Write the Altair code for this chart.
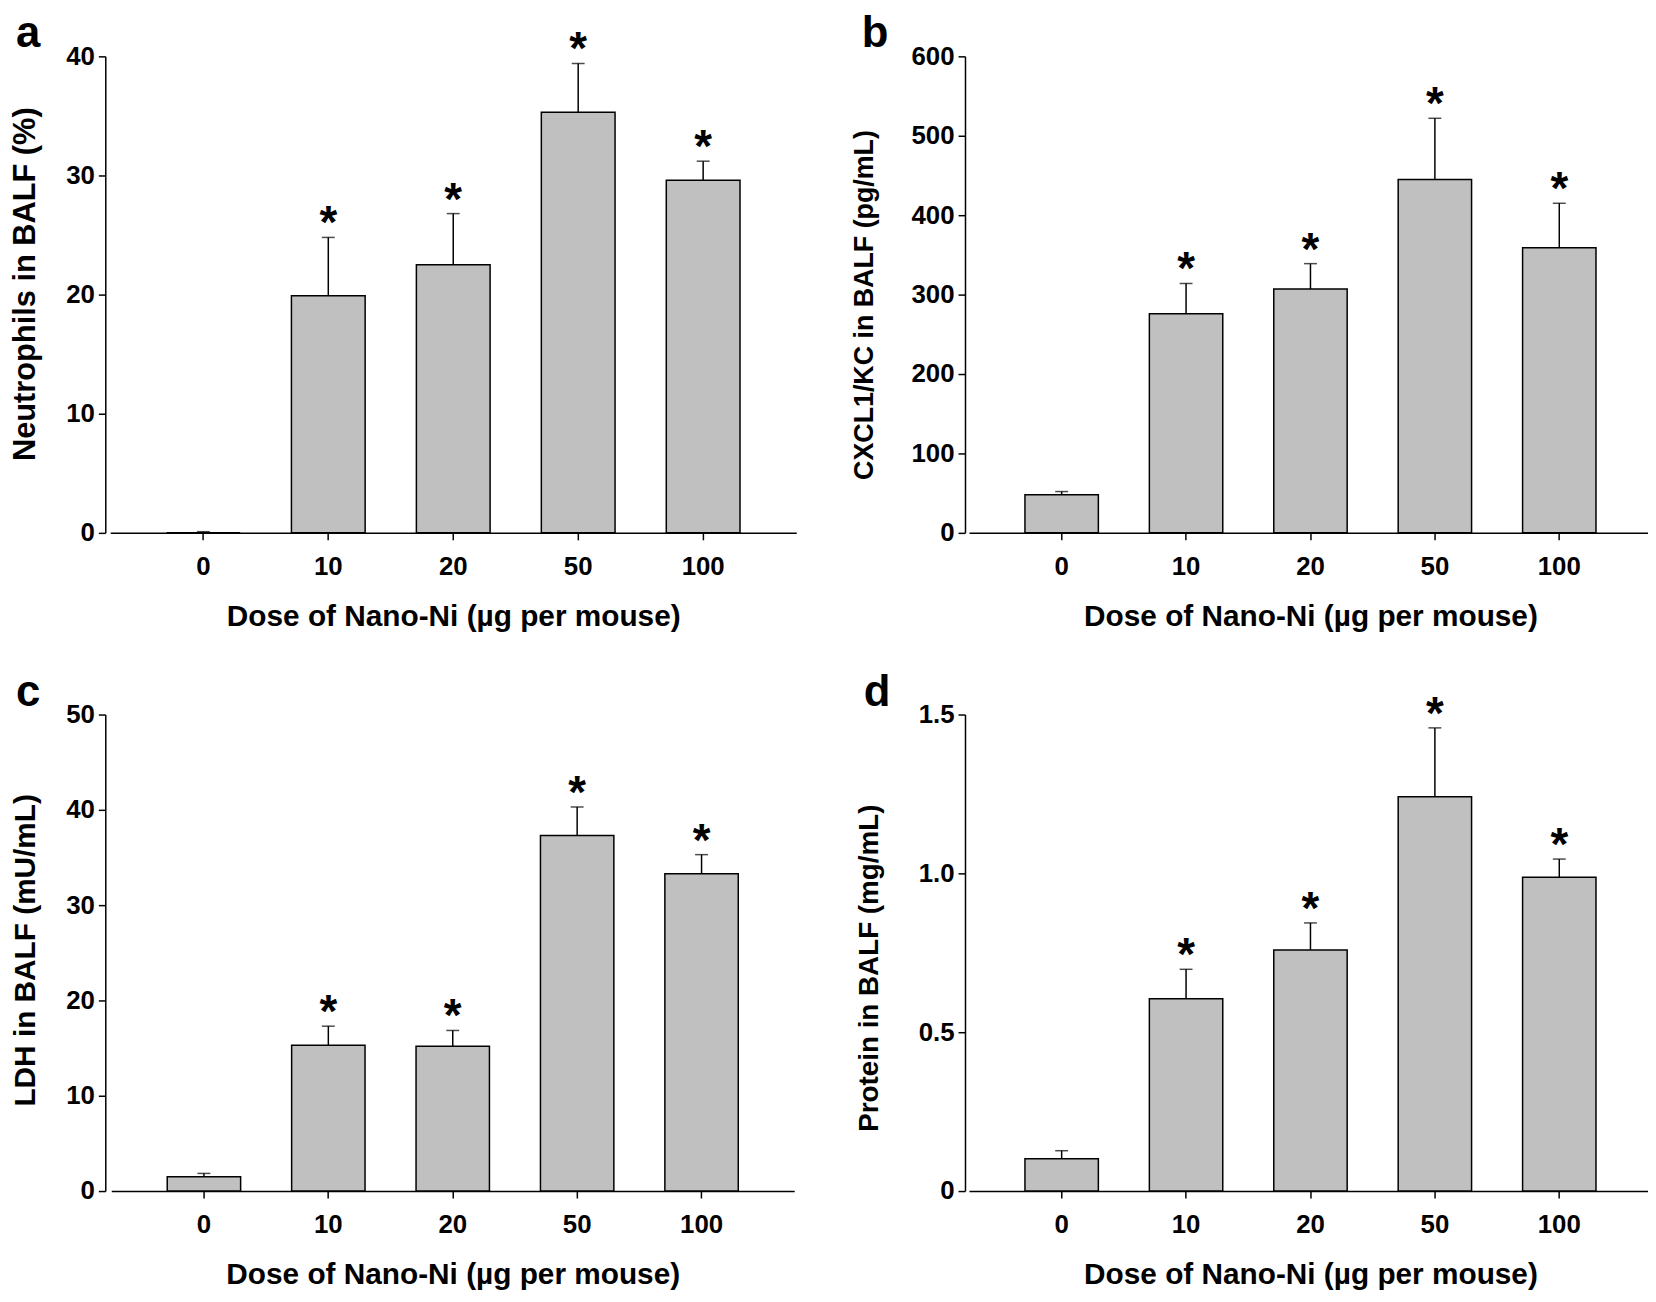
import altair as alt
import pandas as pd

doses = ["0", "10", "20", "50", "100"]
signif = ["", "*", "*", "*", "*"]
panel_letters = ["a", "b", "c", "d"]

neut_mean = [0.0, 19.9, 22.5, 35.3, 29.6]
neut_err = [0.1, 4.9, 4.3, 4.1, 1.6]

cxcl_mean = [48, 276, 307, 445, 359]
cxcl_err = [4, 38, 32, 77, 56]

ldh_mean = [1.5, 15.3, 15.2, 37.3, 33.3]
ldh_err = [0.35, 2.0, 1.65, 3.0, 2.0]

prot_mean = [0.102, 0.605, 0.759, 1.241, 0.988]
prot_err = [0.025, 0.093, 0.085, 0.217, 0.057]

XTITLE = "Dose of Nano-Ni (µg per mouse)"
FONT = "Liberation Sans, Arial, Helvetica, sans-serif"
BAR_FILL = "#c0c0c0"


def panel(letter, mean, err, ytitle, ymax, yticks, label_expr, width, height,
          letter_dx, ytitle_x, ytitle_y, ytitle_size, xrange):
    df = pd.DataFrame({"dose": doses, "mean": mean, "err": err, "sig": signif})
    df["top"] = df["mean"] + df["err"]

    xscale = alt.Scale(paddingInner=0.41, paddingOuter=0.45, range=xrange)

    xenc = alt.X(
        "dose:N", sort=doses, title=XTITLE, scale=xscale,
        axis=alt.Axis(
            labelAngle=0, labelFont=FONT, labelFontSize=26, labelFontWeight="bold",
            labelColor="black", labelPadding=14, tickSize=7, tickColor="black",
            tickWidth=1.5, domainColor="black", domainWidth=1.5,
            titleFont=FONT, titleFontSize=30, titleFontWeight="bold",
            titleColor="black", titleY=69, titleBaseline="top",
        ),
    )

    def yenc(field):
        return alt.Y(
            f"{field}:Q", title=ytitle,
            scale=alt.Scale(domain=[0, ymax], nice=False, zero=True),
            axis=alt.Axis(
                values=yticks, labelExpr=label_expr, grid=False,
                labelFont=FONT, labelFontSize=26, labelFontWeight="bold",
                labelColor="black", labelPadding=4, tickSize=7, tickColor="black",
                tickWidth=1.5, domainColor="black", domainWidth=1.5,
                titleFont=FONT, titleFontSize=ytitle_size, titleFontWeight="bold",
                titleColor="black", titleX=ytitle_x, titleY=ytitle_y,
                titleAngle=270, titleAlign="center", titleBaseline="top",
            ),
        )

    base = alt.Chart(df)
    bars = base.mark_bar(fill=BAR_FILL, stroke="black", strokeWidth=1.5).encode(
        x=xenc, y=yenc("mean"))
    errline = base.mark_rule(color="black", strokeWidth=1.5).encode(
        x=xenc, y=yenc("mean"), y2=alt.Y2("top:Q"))
    cap = base.mark_tick(color="black", thickness=1.5, size=13).encode(
        x=xenc, y=yenc("top"))
    star = base.mark_text(font=FONT, fontSize=46, fontWeight="bold",
                          baseline="alphabetic", dy=1, color="black").encode(
        x=xenc, y=yenc("top"), text="sig:N")

    lab = alt.Chart(pd.DataFrame({"letter": [letter]})).mark_text(
        font=FONT, fontSize=44, fontWeight="bold", align="left",
        baseline="alphabetic", color="black",
    ).encode(text="letter:N", x=alt.value(letter_dx), y=alt.value(-9))

    return alt.layer(bars, errline, cap, star, lab).properties(
        width=width, height=height)


W1, W2, H = 693, 684, 480

pa = panel(panel_letters[0], neut_mean, neut_err, "Neutrophils in BALF (%)", 40,
           [0, 10, 20, 30, 40], "datum.label", W1, H, -90, -95, 229, 31,
           [5, 696])
pb = panel(panel_letters[1], cxcl_mean, cxcl_err, "CXCL1/KC in BALF (pg/mL)", 600,
           [0, 100, 200, 300, 400, 500, 600], "datum.label", W2, H, -104, -114, 250, 27,
           [4, 692])
pc = panel(panel_letters[2], ldh_mean, ldh_err, "LDH in BALF (mU/mL)", 50,
           [0, 10, 20, 30, 40, 50], "datum.label", 689, H, -90, -95, 237, 30,
           [6, 694])
pd_ = panel(panel_letters[3], prot_mean, prot_err, "Protein in BALF (mg/mL)", 1.5,
            [0, 0.5, 1.0, 1.5],
            "datum.value == 0 ? '0' : format(datum.value, '.1f')", W2, H, -102, -110,
            255, 28, [4, 692])

chart = alt.concat(
    pa, pb, pc, pd_, columns=2,
    spacing={"row": 183, "column": 173}, bounds="flush", align="each",
).properties(
    padding={"left": 1, "top": 0, "right": 0, "bottom": 0},
    background="white",
).configure_view(strokeWidth=0)

chart.save("out.html", embed_options={"renderer": "svg", "actions": False})
